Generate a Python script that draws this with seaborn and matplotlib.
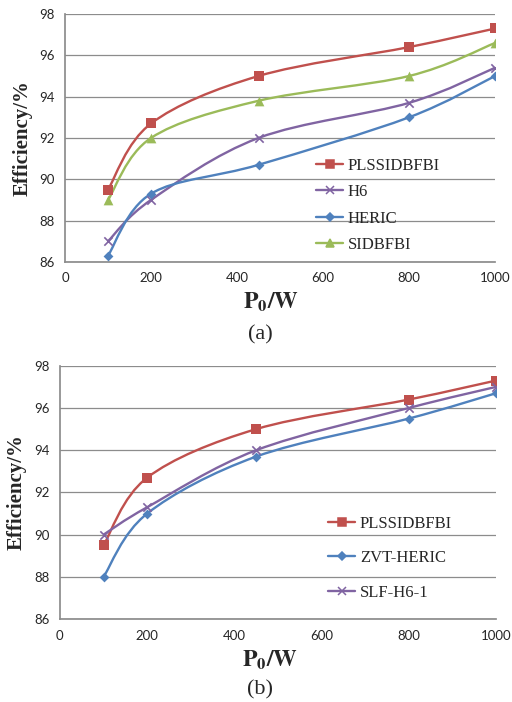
import numpy as np
import pandas as pd
import matplotlib
matplotlib.use("Agg")
import matplotlib.pyplot as plt
import seaborn as sns
from matplotlib.path import Path
from matplotlib.patches import PathPatch
from matplotlib.lines import Line2D

# data
power = [100, 200, 450, 800, 1000]

a_names = ["PLSSIDBFBI", "H6", "HERIC", "SIDBFBI"]
a_plssidbfbi = [89.5, 92.7, 95.0, 96.4, 97.3]
a_h6 = [87.0, 89.0, 92.0, 93.7, 95.4]
a_heric = [86.3, 89.3, 90.7, 93.0, 95.0]
a_sidbfbi = [89.0, 92.0, 93.8, 95.0, 96.6]

b_names = ["PLSSIDBFBI", "ZVT-HERIC", "SLF-H6-1"]
b_plssidbfbi = [89.5, 92.7, 95.0, 96.4, 97.3]
b_zvt_heric = [88.0, 91.0, 93.7, 95.5, 96.7]
b_slf_h6 = [90.0, 91.3, 94.0, 96.0, 97.0]

y_ticks = [86, 88, 90, 92, 94, 96, 98]
x_ticks = [0, 200, 400, 600, 800, 1000]

colors = {"PLSSIDBFBI": "#C0504D", "H6": "#8064A2", "HERIC": "#4F81BD",
          "SIDBFBI": "#9BBB59", "ZVT-HERIC": "#4F81BD", "SLF-H6-1": "#8064A2"}
markers = {"PLSSIDBFBI": "s", "H6": "x", "HERIC": "D", "SIDBFBI": "^",
           "ZVT-HERIC": "D", "SLF-H6-1": "x"}
msize = {"s": 6.5, "x": 6, "D": 5, "^": 7}


def smooth_path(xs, ys):
    # excel-like smoothed line as bezier segments through the data points
    pts = np.column_stack([xs, ys]).astype(float)
    n = len(pts)
    verts = [pts[0]]
    codes = [Path.MOVETO]
    for i in range(n - 1):
        p0 = pts[i - 1] if i > 0 else pts[i]
        p1 = pts[i]
        p2 = pts[i + 1]
        p3 = pts[i + 2] if i + 2 < n else pts[i + 1]
        verts += [p1 + (p2 - p0) / 6.0, p2 - (p3 - p1) / 6.0, p2]
        codes += [Path.CURVE4] * 3
    return Path(verts, codes)


def panel(ax, names, series, leg_anchor, leg_spacing, xlab_pos):
    frames = []
    for nm, vals in zip(names, series):
        frames.append(pd.DataFrame({"P": power, "eff": vals, "name": nm}))
    df = pd.concat(frames, ignore_index=True)

    for nm, vals in zip(names, series):
        ax.add_patch(PathPatch(smooth_path(power, vals), fill=False,
                               edgecolor=colors[nm], lw=1.7, zorder=2))
    for nm in names:
        m = markers[nm]
        sub = df[df["name"] == nm]
        sns.scatterplot(data=sub, x="P", y="eff", ax=ax, marker=m,
                        color=colors[nm], s=msize[m] ** 2,
                        linewidth=1.2 if m == "x" else 0, zorder=3, legend=False)

    ax.set_xlim(0, 1000)
    ax.set_ylim(86, 98)
    ax.set_xticks(x_ticks)
    ax.set_yticks(y_ticks)
    ax.grid(axis="y", color="#8c8c8c", lw=0.9)
    ax.set_axisbelow(True)
    for s in ["top", "right"]:
        ax.spines[s].set_visible(False)
    for s in ["left", "bottom"]:
        ax.spines[s].set_color("#8c8c8c")
    ax.tick_params(axis="both", colors="#8c8c8c", labelcolor="#262626",
                   labelsize=9.5, length=4, direction="out")
    for lab in ax.get_xticklabels() + ax.get_yticklabels():
        lab.set_family("Lato")
    ax.set_xlabel(r"$\mathbf{P_0/W}$", fontsize=17)
    ax.xaxis.set_label_coords(*xlab_pos)
    ax.set_ylabel("Efficiency/%", fontsize=15, fontweight="bold",
                  family="Liberation Serif", labelpad=5)

    handles = [Line2D([], [], color=colors[nm], lw=1.7, marker=markers[nm],
                      markersize=msize[markers[nm]] * 0.85, markeredgewidth=1.1)
               for nm in names]
    ax.legend(handles, names, loc="upper left", bbox_to_anchor=leg_anchor,
              frameon=False, prop={"family": "Liberation Serif", "size": 12},
              handlelength=1.6, handletextpad=0.3, labelspacing=leg_spacing,
              borderpad=0, borderaxespad=0)


sns.set_theme(style="white")
plt.rcParams["mathtext.fontset"] = "stix"
plt.rcParams["font.family"] = ["Liberation Serif", "DejaVu Sans"]

fig = plt.figure(figsize=(5.12, 7.02), dpi=100)
ax1 = fig.add_axes([0.127, 0.627, 0.840, 0.353])
ax2 = fig.add_axes([0.117, 0.118, 0.852, 0.361])

panel(ax1, a_names, [a_plssidbfbi, a_h6, a_heric, a_sidbfbi],
      (0.584, 0.42), 0.63, (0.48, -0.117))
panel(ax2, b_names, [b_plssidbfbi, b_zvt_heric, b_slf_h6],
      (0.615, 0.408), 1.11, (0.482, -0.115))

fig.text(0.508, 0.523, "(a)", ha="center", va="center", fontsize=16,
         family="Liberation Serif")
fig.text(0.508, 0.017, "(b)", ha="center", va="center", fontsize=16,
         family="Liberation Serif")

fig.savefig("out.png", dpi=100)
